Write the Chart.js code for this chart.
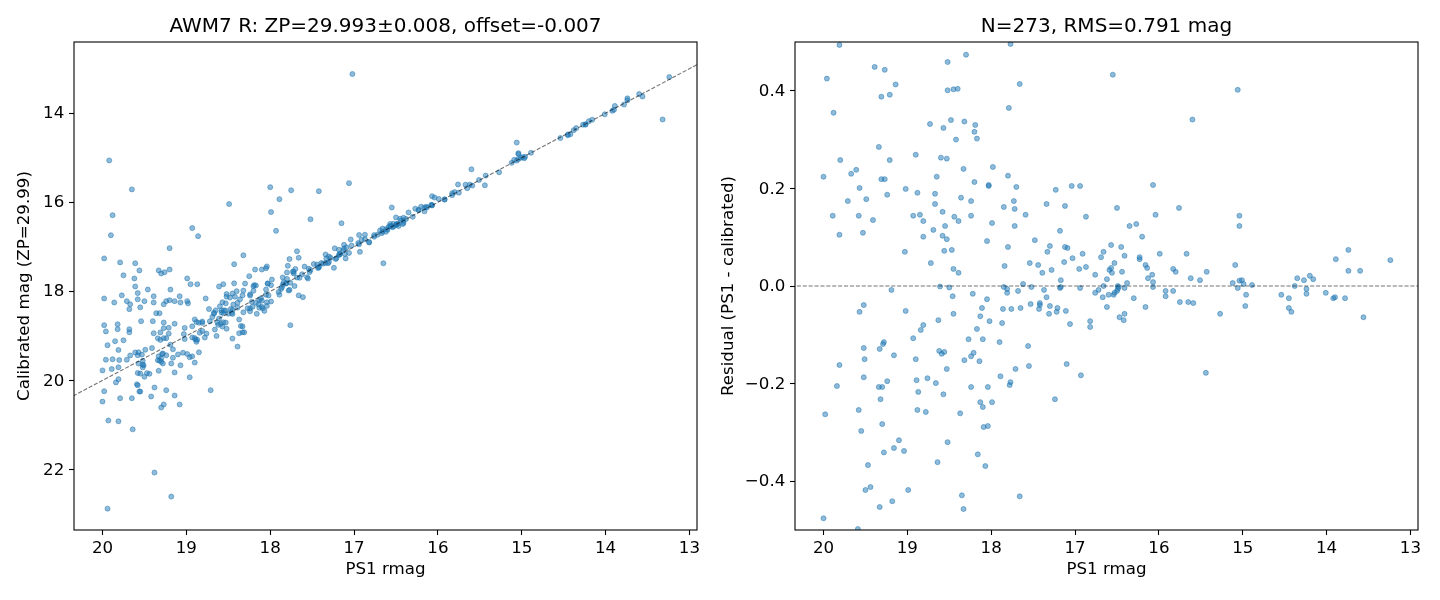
<!DOCTYPE html>
<html><head><meta charset="utf-8">
<script src="https://cdn.jsdelivr.net/npm/chart.js@4.4.1/dist/chart.umd.min.js"></script>
<style>
html,body{margin:0;padding:0;background:#fff;width:1440px;height:600px;overflow:hidden}
canvas{position:absolute;top:0}
#c1{left:0}
#c2{left:718px}
</style></head><body>
<canvas id="c1" width="720" height="600"></canvas>
<canvas id="c2" width="720" height="600"></canvas>
<script>
// ---------- text ----------
const leftTitle = 'AWM7 R: ZP=29.993±0.008, offset=-0.007';
const rightTitle = 'N=273, RMS=0.791 mag';
const xLabel = 'PS1 rmag';
const leftYLabel = 'Calibrated mag (ZP=29.99)';
const rightYLabel = 'Residual (PS1 - calibrated)';

// ---------- ticks ----------
const xTicks = [20, 19, 18, 17, 16, 15, 14, 13];
const xTickLabels = ['20', '19', '18', '17', '16', '15', '14', '13'];
const leftYTicks = [14, 16, 18, 20, 22];
const leftYTickLabels = ['14', '16', '18', '20', '22'];
const rightYTicks = [-0.4, -0.2, 0, 0.2, 0.4];
const rightYTickLabels = ['\u22120.4', '\u22120.2', '0.0', '0.2', '0.4'];

// ---------- axis ranges ----------
const xRange = [12.91, 20.34];
const leftYRange = [12.40, 23.36];
const rightYRange = [-0.5, 0.5];

// ---------- data: stars within |residual| < 0.5  [PS1 rmag, residual] ----------
const fitPs1Resid = [
[19.81,0.494],[18.30,0.474],[18.52,0.459],[19.96,0.425],[19.39,0.449],[19.27,0.443],[19.14,0.413],[19.31,0.388],
[19.21,0.392],[18.52,0.401],[18.45,0.403],[18.40,0.404],[19.88,0.355],[18.73,0.332],[18.57,0.324],[18.48,0.340],
[18.32,0.337],[18.19,0.330],[18.20,0.316],[18.17,0.302],[18.42,0.300],[19.34,0.285],[19.80,0.258],[19.21,0.258],
[18.90,0.269],[18.60,0.263],[18.53,0.261],[17.98,0.244],[18.33,0.240],[20.00,0.224],[19.67,0.230],[19.61,0.238],
[19.31,0.219],[19.27,0.219],[18.65,0.224],[18.20,0.213],[18.03,0.205],[18.03,0.207],[19.57,0.201],[19.02,0.199],
[19.24,0.187],[18.88,0.191],[18.67,0.189],[19.71,0.174],[19.49,0.178],[18.67,0.168],[18.36,0.181],[18.24,0.174],
[17.85,0.162],[19.89,0.144],[19.58,0.144],[19.41,0.135],[18.93,0.144],[18.85,0.146],[18.81,0.133],[18.58,0.152],
[18.44,0.142],[18.39,0.133],[18.24,0.144],[17.99,0.129],[18.55,0.123],[19.81,0.105],[19.53,0.109],[18.69,0.115],
[18.81,0.101],[18.58,0.103],[18.53,0.096],[18.05,0.092],[19.03,0.070],[18.56,0.072],[18.47,0.074],[18.72,0.047],
[18.45,0.035],[18.39,0.027],[17.84,0.041],[18.61,-0.001],[18.50,-0.003],[19.19,-0.008],
[18.46,-0.021],[18.22,-0.016],[18.05,-0.027],[19.52,-0.039],[19.57,-0.053],[19.02,-0.051],[18.45,-0.057],[18.11,-0.045],
[18.13,-0.062],[18.02,-0.072],[17.86,-0.047],[17.87,-0.076],[18.63,-0.070],[18.81,-0.080],[18.84,-0.090],[18.17,-0.088],
[18.93,-0.107],[18.27,-0.109],[18.10,-0.109],[17.90,-0.115],[19.28,-0.115],[19.29,-0.119],[19.52,-0.127],[19.33,-0.129],
[19.51,-0.150],[19.16,-0.142],[19.81,-0.162],[18.90,-0.150],[18.62,-0.133],[18.59,-0.139],[18.56,-0.135],[18.32,-0.152],
[18.24,-0.144],[18.21,-0.137],[18.14,-0.154],[18.53,-0.170],[19.52,-0.187],[19.84,-0.205],[19.34,-0.207],[19.30,-0.207],
[19.24,-0.195],[18.89,-0.193],[18.76,-0.189],[18.66,-0.199],[18.87,-0.217],[18.57,-0.222],[18.24,-0.207],[18.04,-0.207],
[19.32,-0.232],[19.98,-0.263],[19.58,-0.254],[18.88,-0.254],[18.78,-0.258],[18.37,-0.261],[18.13,-0.238],[18.10,-0.248],
[17.99,-0.238],[19.30,-0.283],[18.09,-0.289],[18.04,-0.287],[19.55,-0.297],[19.10,-0.316],[18.52,-0.320],[19.16,-0.332],
[19.28,-0.341],[19.04,-0.338],[18.16,-0.345],[18.64,-0.361],[19.47,-0.367],[18.07,-0.369],[19.50,-0.418],[19.44,-0.412],
[18.99,-0.418],[18.35,-0.429],[19.33,-0.453],[19.18,-0.441],[18.33,-0.457],[20.00,-0.476],[19.59,-0.498],
[17.77,0.496],[17.66,0.414],[17.79,0.365],[16.55,0.433],[15.60,0.341],[17.80,0.226],[17.70,0.203],[17.73,0.174],
[17.72,0.158],[17.72,0.123],[17.59,0.146],[17.80,0.080],[17.48,0.094],[17.34,0.168],[17.23,0.197],[17.04,0.205],
[16.94,0.205],[17.12,0.164],[16.87,0.142],[17.18,0.113],[17.30,0.082],[17.33,0.070],[17.12,0.080],[17.09,0.078],
[17.54,0.047],[17.44,0.043],[17.39,0.027],[17.28,0.033],[17.13,0.049],[17.03,0.057],[16.91,0.066],[16.95,0.035],
[16.87,0.039],[17.17,0.012],[17.62,0.004],[17.52,-0.002],[16.76,0.023],[16.69,0.059],[16.66,0.070],[16.57,0.084],
[16.50,0.160],[16.45,0.080],[16.41,0.062],[16.53,0.047],[16.62,0.014],[16.57,0.037],[16.59,0.033],[16.56,0.027],
[16.44,0.029],[16.38,0.006],[16.35,0.123],[16.27,0.127],[16.20,0.101],[16.23,0.059],[16.23,0.055],[16.16,0.043],
[16.14,0.037],[16.13,0.016],[16.08,0.023],[16.07,0.008],[16.07,0.207],[16.04,0.146],[15.99,0.066],[15.76,0.160],
[15.83,0.035],[15.80,0.029],[15.67,0.066],[15.62,0.016],[15.51,0.012],[15.43,0.029],
[17.85,-0.002],[17.81,-0.006],[17.81,-0.014],[17.68,-0.010],[17.37,-0.008],[17.18,-0.004],[17.17,-0.002],[16.94,-0.004],
[16.76,-0.014],[16.72,-0.008],[16.66,0.000],[16.67,-0.023],[16.60,-0.018],[16.54,-0.018],[16.53,-0.014],[16.50,-0.010],
[16.49,-0.006],[16.48,-0.002],[16.49,0.000],[16.41,-0.004],[16.30,-0.025],[16.47,-0.064],[16.42,-0.070],[16.41,-0.057],
[16.62,-0.043],[16.16,-0.043],[16.07,-0.002],[15.92,-0.010],[15.92,-0.021],[15.83,-0.010],[15.75,-0.033],[15.65,-0.033],
[15.59,-0.035],[15.44,-0.178],[17.76,-0.047],[17.65,-0.045],[17.53,-0.037],[17.43,-0.047],[17.42,-0.039],[17.42,-0.035],
[17.34,-0.023],[17.30,-0.041],[17.31,-0.057],[17.22,-0.053],[17.21,-0.045],[17.11,-0.051],[17.06,-0.078],[17.56,-0.123],
[16.82,-0.072],[16.82,-0.084],[17.71,-0.170],[17.55,-0.164],[17.89,-0.185],[17.77,-0.197],[17.78,-0.203],[17.10,-0.160],
[16.93,-0.183],[17.24,-0.232],[17.66,-0.431],
[15.06,0.402],[15.04,0.144],[15.04,0.123],[15.09,0.043],[15.12,0.006],[15.04,0.011],[15.01,0.012],[14.99,0.004],
[15.06,-0.004],[14.89,0.002],[14.96,-0.018],[14.97,-0.041],[15.27,-0.057],[14.54,-0.018],[14.45,-0.025],[14.45,-0.045],
[14.42,-0.053],[14.38,0.000],[14.35,0.016],[14.27,0.012],[14.24,-0.006],[14.24,-0.016],[14.20,0.021],[14.16,0.014],
[14.01,-0.014],[13.92,-0.025],[13.90,-0.023],[13.89,0.055],[13.74,0.074],[13.74,0.031],[13.78,-0.025],[13.60,0.031],
[13.56,-0.064],[13.24,0.053]
];

// ---------- data: stars with |residual| > 0.5  [PS1 rmag, calibrated mag] ----------
const outlierPs1Cal = [
[19.92,15.06],[19.65,15.71],[19.88,16.29],[19.90,16.74],[19.98,17.26],[19.20,17.03],[18.93,16.58],[18.86,16.76],
[18.49,16.04],[18.00,15.66],[17.75,15.73],[17.89,15.93],[17.99,16.22],[17.93,16.64],[19.79,17.35],[19.61,17.37],
[19.56,17.53],[19.75,17.64],[19.62,17.71],[19.61,17.89],[19.58,18.04],[19.46,17.96],[19.98,18.16],[19.86,18.25],
[19.77,18.09],[19.71,18.22],[19.67,18.29],[19.68,18.40],[19.58,18.18],[19.55,18.36],[19.50,18.22],[19.39,18.11],
[19.39,18.25],[19.33,17.53],[19.30,17.60],[19.26,17.57],[19.20,17.51],[19.19,17.96],[19.27,18.29],[19.24,18.22],
[19.20,18.20],[19.14,18.22],[19.08,18.11],[19.07,18.25],[18.99,18.22],[18.98,18.27],[18.99,17.71],[18.95,17.84],
[18.87,17.84],[18.77,18.16],[18.61,17.89],[18.56,17.84],[18.43,17.39],[18.32,17.19],[18.43,17.82],[18.25,17.66],
[18.18,17.51],[18.10,17.51],[18.05,17.48],[18.04,17.44],[17.68,17.10],[19.36,18.49],[19.32,18.49],[19.40,18.67],
[19.54,18.67],[19.27,18.70],[19.98,18.76],[19.82,18.74],[19.68,18.85],[17.76,18.76],
[19.96,18.90],[19.82,18.85],[19.68,18.92],[19.94,19.21],[19.85,19.12],[19.75,19.10],[19.79,20.40],[19.65,20.40],
[19.93,20.90],[19.81,20.92],[19.64,21.10],[19.38,22.07],[19.18,22.61],[19.94,22.88],[19.58,20.11],[19.56,20.25],
[19.55,20.25],[19.42,20.36],[19.38,20.16],[19.24,20.22],[19.14,20.34],[19.30,20.61],[19.27,20.54],[19.08,20.54],
[18.71,20.22],[18.96,19.93],[19.14,19.82],[19.07,19.66],[18.90,19.60],[18.96,19.48],[18.93,19.46],[18.85,19.37],
[18.45,19.06],[18.39,19.24],[18.37,18.94],[18.33,18.92],[18.31,18.92],
[17.02,13.12],[17.06,15.57],[17.42,15.75],[17.52,16.38],[17.15,16.47],[16.65,17.37],[17.61,18.13],[13.32,14.14]
];

// reference lines (end points beyond the axes, clipped by the chart area)
const identityLineEnds = [20.6, 12.6];
const zeroLineEnds = [20.6, 12.6];

// ---------- styling ----------
const FONT = 'DejaVu Sans';
const pointFill = 'rgba(31,119,180,0.5)';
const refLine = 'rgba(0,0,0,0.55)';

const frame = {
  id: 'frame',
  afterDraw(chart) {
    const {ctx, chartArea: a} = chart;
    ctx.save();
    ctx.strokeStyle = '#000';
    ctx.lineWidth = 1.1;
    ctx.strokeRect(a.left, a.top, a.right - a.left, a.bottom - a.top);
    ctx.restore();
  }
};

function tickLabelFrom(values, labels) {
  return v => {
    const i = values.findIndex(t => Math.abs(t - v) < 1e-9);
    return i >= 0 ? labels[i] : '';
  };
}

function makeX() {
  return {
    type: 'linear', reverse: true, min: xRange[0], max: xRange[1],
    afterBuildTicks: s => { s.ticks = xTicks.map(v => ({value: v})); },
    afterFit: s => { s.height = 70; },
    ticks: {autoSkip: false, maxRotation: 0, padding: 4.1, color: '#000',
            font: {family: FONT, size: 16.67, lineHeight: 1.2}, callback: tickLabelFrom(xTicks, xTickLabels)},
    grid: {display: true, drawOnChartArea: false, drawTicks: true, tickLength: 5, tickWidth: 1.1, tickColor: '#000'},
    border: {display: false},
    title: {display: true, text: xLabel, color: '#000', font: {family: FONT, size: 16.67, lineHeight: 1.2},
            padding: {top: 0, bottom: 20.6}}
  };
}

function makeY(range, ticks, labels, reverse, width, titleText, titlePadTop) {
  return {
    type: 'linear', reverse: reverse, min: range[0], max: range[1],
    afterBuildTicks: s => { s.ticks = ticks.map(v => ({value: v})); },
    afterFit: s => { s.width = width; },
    ticks: {autoSkip: false, padding: 4.7, labelOffset: 0.8, color: '#000',
            font: {family: FONT, size: 16.67, lineHeight: 1.2}, callback: tickLabelFrom(ticks, labels)},
    grid: {display: true, drawOnChartArea: false, drawTicks: true, tickLength: 5, tickWidth: 1.1, tickColor: '#000'},
    border: {display: false},
    title: {display: true, text: titleText, color: '#000', font: {family: FONT, size: 16.67, lineHeight: 1.2},
            padding: {top: titlePadTop, bottom: 0}}
  };
}

function titleOpts(text) {
  return {display: true, text: text, color: '#000', fullSize: false,
          font: {family: FONT, size: 20, weight: 'normal', lineHeight: 1.2},
          padding: {top: 14.8, bottom: 3.2}};
}

function scatterSet(data) {
  return {data: data, pointRadius: 2.5, pointHoverRadius: 2.5, borderWidth: 1,
          backgroundColor: pointFill, borderColor: pointFill, showLine: false};
}

function lineSet(data) {
  return {data: data, showLine: true, pointRadius: 0, pointHoverRadius: 0, borderColor: refLine,
          borderWidth: 1.1, borderDash: [4.1, 1.8], fill: false, tension: 0};
}

const baseOpts = {
  responsive: false, animation: false, devicePixelRatio: 1,
  events: []
};

// ---------- left panel ----------
const leftPoints = fitPs1Resid.map(([m, r]) => ({x: m, y: m - r}))
  .concat(outlierPs1Cal.map(([m, c]) => ({x: m, y: c})));

new Chart(document.getElementById('c1'), {
  type: 'scatter',
  data: {datasets: [
    lineSet(identityLineEnds.map(v => ({x: v, y: v}))),
    scatterSet(leftPoints)
  ]},
  options: Object.assign({}, baseOpts, {
    layout: {padding: {left: 0, right: 23, top: 0, bottom: 0}},
    plugins: {legend: {display: false}, tooltip: {enabled: false}, title: titleOpts(leftTitle)},
    scales: {
      x: makeX(),
      y: makeY(leftYRange, leftYTicks, leftYTickLabels, true, 74, leftYLabel, 14.9)
    }
  }),
  plugins: [frame]
});

// ---------- right panel ----------
const rightPoints = fitPs1Resid.map(([m, r]) => ({x: m, y: r}));

new Chart(document.getElementById('c2'), {
  type: 'scatter',
  data: {datasets: [
    lineSet(zeroLineEnds.map(v => ({x: v, y: 0}))),
    scatterSet(rightPoints)
  ]},
  options: Object.assign({}, baseOpts, {
    layout: {padding: {left: 0, right: 20, top: 0, bottom: 0}},
    plugins: {legend: {display: false}, tooltip: {enabled: false}, title: titleOpts(rightTitle)},
    scales: {
      x: makeX(),
      y: makeY(rightYRange, rightYTicks, rightYTickLabels, false, 77, rightYLabel, 0.4)
    }
  }),
  plugins: [frame]
});
</script>
</body></html>
